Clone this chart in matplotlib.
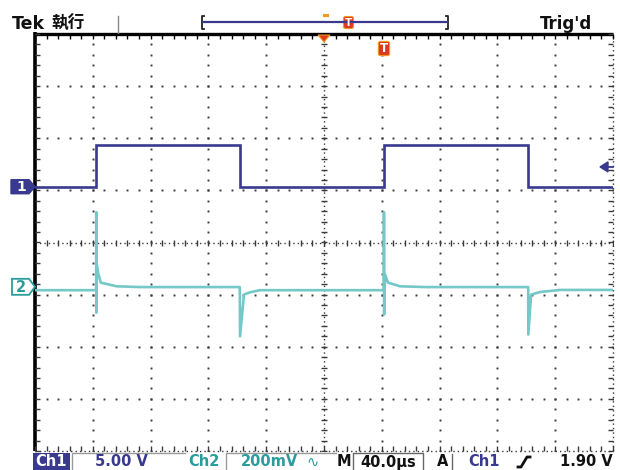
import numpy as np
import matplotlib
matplotlib.use("Agg")
import matplotlib.pyplot as plt
from matplotlib.patches import Polygon, Rectangle, FancyBboxPatch

# ---- acquisition settings ----
time_per_div = 40.0      # µs / div
ch1_scale = 5.0          # V / div
ch2_scale = 200.0        # mV / div
ch1_pos = 1.07           # ground marker position, div
ch2_pos = -0.85
trig_level = 1.90        # V on Ch1
trig_time = 41.5         # µs

# Channel 1: square wave (µs, V)
ch1_time = [-200.0, -157.6, -157.6, -58.1, -58.1, 41.5, 41.5, 141.4, 141.4, 200.0]
ch1_volts = [0.0, 0.0, 4.0, 4.0, 0.0, 0.0, 4.0, 4.0, 0.0, 0.0]

# Channel 2: differentiated response (µs, mV)
ch2_time = [-200.0, -157.7, -157.6, -157.5, -157.3, -156.2, -154.5, -143.5, -127.3,
            -58.3, -58.1, -55.4, -51.2, -44.3,
            41.4, 41.5, 41.6, 42.2, 44.3, 52.6, 70.0,
            141.3, 141.4, 143.3, 149.5, 163.3, 200.0]
ch2_mv = [-13, -13, 286, -99, 89, 51, 16, 2, -1,
          -1, -190, -30, -21, -13,
          -13, 286, -106, 47, 16, 2, -1,
          -1, -183, -30, -20, -12, -12]

NAVY = "#38398f"
TEAL = "#74c8c8"
TEAL_TXT = "#2a9d9b"
RED = "#dc3a22"
ORANGE = "#f39a1e"
DOT = "#3a3a3a"

W, H = 620, 470
fig = plt.figure(figsize=(W / 100, H / 100), dpi=100)
fig.patch.set_facecolor("white")

# screen area in pixels
X0, X1, Y0, Y1 = 35, 613, 34, 451
ax = fig.add_axes([X0 / W, (H - Y1) / H, (X1 - X0) / W, (Y1 - Y0) / H])
ax.set_xlim(-5, 5)
ax.set_ylim(-4, 4)
ax.axis("off")

# ---- graticule ----
sub_x = np.arange(-5, 5.0001, 0.2)
sub_y = np.arange(-4, 4.0001, 0.2)
for gx in range(-4, 5):
    if gx == 0:
        continue
    ax.plot(np.full_like(sub_y, gx), sub_y, ls="none", marker="s", ms=1.4,
            mec="none", color=DOT, zorder=1)
for gy in range(-3, 4):
    if gy == 0:
        continue
    ax.plot(sub_x, np.full_like(sub_x, gy), ls="none", marker="s", ms=1.4,
            mec="none", color=DOT, zorder=1)

# centre cross
ax.plot([-5, 5], [0, 0], color=DOT, lw=1.0, ls=(0, (1, 2.2)), zorder=1)
ax.plot([0, 0], [-4, 4], color=DOT, lw=1.0, ls=(0, (1, 2.2)), zorder=1)
ax.plot(sub_x, np.zeros_like(sub_x), ls="none", marker="|", ms=4.5, mew=1.0,
        color=DOT, zorder=1)
ax.plot(np.zeros_like(sub_y), sub_y, ls="none", marker="_", ms=4.5, mew=1.0,
        color=DOT, zorder=1)

# frame
ax.plot([-5, 5], [4, 4], color="black", lw=2.4, clip_on=False, zorder=3,
        solid_capstyle="butt")
ax.plot([-5, -5], [-4, 4.03], color="black", lw=2.6, clip_on=False, zorder=3,
        solid_capstyle="butt")
ax.plot([5, 5], [-4, 4], color=DOT, lw=1.0, ls=(0, (1, 2.2)), clip_on=False, zorder=1)
ax.plot([-5, 5], [-4, -4], color=DOT, lw=1.0, ls=(0, (1, 2.2)), clip_on=False, zorder=1)
ax.plot(sub_x, np.full_like(sub_x, 4), ls="none", marker=3, ms=3.5, mew=1.0,
        color="black", clip_on=False, zorder=3)
ax.plot(sub_x, np.full_like(sub_x, -4), ls="none", marker=2, ms=3.5, mew=1.0,
        color=DOT, clip_on=False, zorder=3)
ax.plot(np.full_like(sub_y, -5), sub_y, ls="none", marker=1, ms=3.5, mew=1.0,
        color=DOT, clip_on=False, zorder=3)
ax.plot(np.full_like(sub_y, 5), sub_y, ls="none", marker=0, ms=3.5, mew=1.0,
        color=DOT, clip_on=False, zorder=3)

# ---- traces ----
t1 = np.array(ch1_time) / time_per_div
y1 = ch1_pos + np.array(ch1_volts) / ch1_scale
ax.plot(t1, y1, color=NAVY, lw=1.9, zorder=5, solid_joinstyle="miter")

t2 = np.array(ch2_time) / time_per_div
y2 = ch2_pos + np.array(ch2_mv, dtype=float) / ch2_scale
ax.plot(t2, y2, color=TEAL, lw=1.9, zorder=4)

# ---- overlay in pixel coordinates ----
ov = fig.add_axes([0, 0, 1, 1], zorder=10)
ov.set_xlim(0, W)
ov.set_ylim(H, 0)
ov.axis("off")
ov.patch.set_alpha(0)

px_per_div_x = (X1 - X0) / 10
px_per_div_y = (Y1 - Y0) / 8
cx, cy = (X0 + X1) / 2, (Y0 + Y1) / 2


def ypix(div):
    return cy - div * px_per_div_y


def xpix(div):
    return cx + div * px_per_div_x


# channel markers
y_c1 = ypix(ch1_pos)
ov.add_patch(Polygon([(11, y_c1 - 7), (29, y_c1 - 7), (35, y_c1), (29, y_c1 + 7),
                      (11, y_c1 + 7)], closed=True, fc=NAVY, ec=NAVY))
ov.text(21, y_c1 + 0.5, "1", color="white", fontsize=10, fontweight="bold",
        ha="center", va="center")

y_c2 = ypix(ch2_pos)
ov.add_patch(Polygon([(12, y_c2 - 8), (29, y_c2 - 8), (35, y_c2), (29, y_c2 + 8),
                      (12, y_c2 + 8)], closed=True, fc="white", ec=TEAL_TXT, lw=1.3))
ov.text(21, y_c2 + 0.5, "2", color=TEAL_TXT, fontsize=10.5, fontweight="bold",
        ha="center", va="center")

# trigger level arrow (right edge)
y_tr = ypix(ch1_pos + trig_level / ch1_scale)
ov.add_patch(Polygon([(600, y_tr), (608, y_tr - 5), (608, y_tr + 5)], closed=True,
                     fc=NAVY, ec=NAVY))
ov.plot([607, 613], [y_tr, y_tr], color=NAVY, lw=1.3)

# horizontal position marker
ov.add_patch(Polygon([(cx - 6, Y0 + 1), (cx + 6, Y0 + 1), (cx, Y0 + 8)], closed=True,
                     fc=RED, ec=ORANGE, lw=0.8))

# trigger point marker
x_tp = xpix(trig_time / time_per_div)
ov.add_patch(FancyBboxPatch((x_tp - 5, 42), 10, 13, boxstyle="round,pad=0.6,rounding_size=2",
                            fc=RED, ec=ORANGE, lw=0.8))
ov.text(x_tp, 49, "T", color="white", fontsize=8.5, fontweight="bold",
        ha="center", va="center")

# ---- top bar ----
ov.text(12, 24, "Tek", fontsize=12.5, fontweight="bold", color="#111111",
        ha="left", va="center", family="DejaVu Sans")
ov.text(51, 24, "執行", fontsize=12, fontweight="bold", color="#111111",
        ha="left", va="center", family=["Noto Sans CJK TC", "DejaVu Sans"])
ov.plot([118, 118], [16, 33], color="#888888", lw=1.0)

# record view bracket
ov.plot([204, 202, 202, 204], [16, 16, 29, 29], color="#222222", lw=1.3)
ov.plot([446, 448, 448, 446], [16, 16, 29, 29], color="#222222", lw=1.3)
ov.plot([203, 447], [22, 22], color=NAVY, lw=1.6)
ov.plot([324, 327], [15, 15], color=ORANGE, lw=2.2)
ov.add_patch(FancyBboxPatch((344, 17), 9, 11, boxstyle="round,pad=0.5,rounding_size=2",
                            fc=RED, ec=ORANGE, lw=0.8))
ov.text(348.5, 22.5, "T", color="white", fontsize=7.5, fontweight="bold",
        ha="center", va="center")

ov.text(592, 24, "Trig'd", fontsize=12, fontweight="bold", color="#111111",
        ha="right", va="center")

# ---- status bar ----
sy = 462
ov.add_patch(Rectangle((33, 453), 37, 18, fc=NAVY, ec="none"))
ov.text(51.5, sy, "Ch1", color="white", fontsize=10.5, fontweight="bold",
        ha="center", va="center")
ov.plot([72, 72, 185], [471, 453, 453], color="#9a9a9a", lw=1.0)
ov.text(121, sy, "5.00 V", color=NAVY, fontsize=10.5, fontweight="bold",
        ha="center", va="center")
ov.text(204, sy, "Ch2", color=TEAL_TXT, fontsize=10.5, fontweight="bold",
        ha="center", va="center")
ov.plot([226, 226, 336], [471, 453, 453], color="#9a9a9a", lw=1.0)
ov.text(241, sy, "200mV", color=TEAL_TXT, fontsize=10.5, fontweight="bold",
        ha="left", va="center")
ov.text(313, sy, "\u223f", color=TEAL_TXT, fontsize=10.5, ha="center", va="center")
ov.text(344, sy, "M", color="#111111", fontsize=10.5, fontweight="bold",
        ha="center", va="center")
ov.plot([353, 353, 423, 423], [471, 453, 453, 471], color="#666666", lw=1.0)
ov.text(388, sy, "40.0\u03bcs", color="#111111", fontsize=10.5, fontweight="bold",
        ha="center", va="center")
ov.text(443, sy, "A", color="#111111", fontsize=10.5, fontweight="bold",
        ha="center", va="center")
ov.plot([452, 452], [454, 470], color="#666666", lw=1.0)
ov.text(484, sy, "Ch1", color=NAVY, fontsize=10.5, fontweight="bold",
        ha="center", va="center")
ov.plot([518, 521, 527, 530], [467, 467, 457, 457], color="#111111", lw=2.0)
ov.text(613, sy, "1.90 V", color="#111111", fontsize=10.5, fontweight="bold",
        ha="right", va="center")

fig.savefig("out.png", dpi=100, facecolor="white")
